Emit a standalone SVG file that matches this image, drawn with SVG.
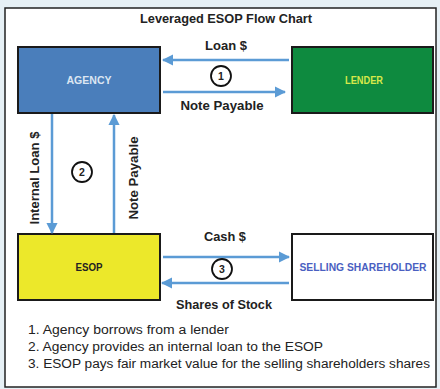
<svg xmlns="http://www.w3.org/2000/svg" width="440" height="389" viewBox="0 0 440 389">
<defs>
<marker id="ah" viewBox="0 0 10 10" refX="9" refY="5" markerWidth="4.5" markerHeight="4.5" orient="auto" markerUnits="strokeWidth">
<path d="M0,0 L10,5 L0,10 z" fill="#5b9bd5"/>
</marker>
<style>
text{font-family:"Liberation Sans","DejaVu Sans",sans-serif;}
.lbl{font-size:12.5px;font-weight:bold;fill:#222;text-anchor:middle;}
.box{stroke:#1a1a1a;stroke-width:2;}
.name{font-size:10px;font-weight:bold;text-anchor:middle;}
.arr{stroke:#5b9bd5;stroke-width:2.5;fill:none;marker-end:url(#ah);}
.num{fill:#fff;stroke:#111;stroke-width:1.8;}
.numt{font-size:10.5px;font-weight:bold;fill:#222;text-anchor:middle;}
.leg{font-size:12px;fill:#222;}
</style>
</defs>
<rect x="0" y="0" width="440" height="389" fill="#e6f0f5"/>
<rect x="5" y="8" width="431" height="379" fill="#ffffff" stroke="#222" stroke-width="1.5"/>
<text class="lbl" x="226" y="23" textLength="172" lengthAdjust="spacingAndGlyphs">Leveraged ESOP Flow Chart</text>
<g id="agency">
<rect class="box" x="18" y="47" width="142" height="66" fill="#4a7ebb"/>
<text class="name" x="89" y="84" fill="#dce6f2" textLength="45" lengthAdjust="spacingAndGlyphs">AGENCY</text>
</g>
<g id="lender">
<rect class="box" x="292" y="47" width="141" height="66" fill="#0e8a3f"/>
<text class="name" x="364" y="84" fill="#d7e84a" textLength="38" lengthAdjust="spacingAndGlyphs">LENDER</text>
</g>
<g id="esop">
<rect class="box" x="18" y="234" width="142" height="66" fill="#ece82a"/>
<text class="name" x="89" y="271" fill="#222" textLength="27" lengthAdjust="spacingAndGlyphs">ESOP</text>
</g>
<g id="selling-shareholder">
<rect class="box" x="292" y="234" width="141" height="66" fill="#ffffff"/>
<text class="name" x="363" y="271" fill="#4a5fc1" textLength="127" lengthAdjust="spacingAndGlyphs">SELLING SHAREHOLDER</text>
</g>
<g id="connectors">
<line class="arr" x1="289" y1="60" x2="163" y2="60"/>
<line class="arr" x1="163" y1="92" x2="285" y2="92"/>
<line class="arr" x1="52" y1="114" x2="52" y2="233"/>
<line class="arr" x1="114" y1="233" x2="114" y2="115"/>
<line class="arr" x1="163" y1="257" x2="289" y2="257"/>
<line class="arr" x1="289" y1="283" x2="162" y2="283"/>
</g>
<g id="labels">
<text class="lbl" x="226" y="50" textLength="42" lengthAdjust="spacingAndGlyphs">Loan $</text>
<text class="lbl" x="222" y="110" textLength="83" lengthAdjust="spacingAndGlyphs">Note Payable</text>
<text class="lbl" transform="translate(39,178) rotate(-90)" textLength="93" lengthAdjust="spacingAndGlyphs">Internal Loan $</text>
<text class="lbl" transform="translate(138,178) rotate(-90)" textLength="83" lengthAdjust="spacingAndGlyphs">Note Payable</text>
<text class="lbl" x="225" y="241" textLength="42" lengthAdjust="spacingAndGlyphs">Cash $</text>
<text class="lbl" x="224" y="309" textLength="96" lengthAdjust="spacingAndGlyphs">Shares of Stock</text>
</g>
<g id="step1"><circle class="num" cx="221" cy="76" r="10"/><text class="numt" x="221" y="80">1</text></g>
<g id="step2"><circle class="num" cx="82" cy="172" r="10"/><text class="numt" x="82" y="176">2</text></g>
<g id="step3"><circle class="num" cx="222" cy="269" r="10"/><text class="numt" x="222" y="273">3</text></g>
<g id="legend">
<text class="leg" x="28" y="334" textLength="201" lengthAdjust="spacingAndGlyphs">1. Agency borrows from a lender</text>
<text class="leg" x="28" y="351" textLength="295" lengthAdjust="spacingAndGlyphs">2. Agency provides an internal loan to the ESOP</text>
<text class="leg" x="28" y="368" textLength="402" lengthAdjust="spacingAndGlyphs">3. ESOP pays fair market value for the selling shareholders shares</text>
</g>
</svg>
